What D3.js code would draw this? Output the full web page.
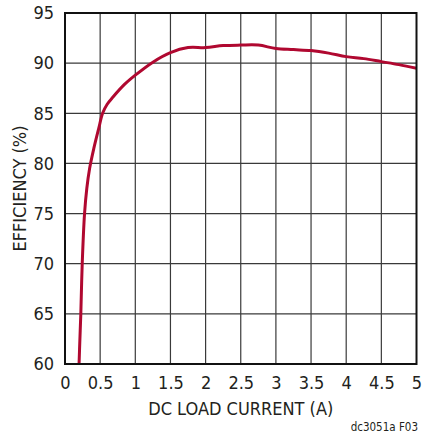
<!DOCTYPE html>
<html>
<head>
<meta charset="utf-8">
<script src="https://cdn.jsdelivr.net/npm/d3@7"></script>
<style>
html,body{margin:0;padding:0;background:#fff;}
svg{display:block;}
text{font-family:"Liberation Sans Narrow","Arial Narrow","DejaVu Sans Condensed",sans-serif;fill:#231f20;}
</style>
</head>
<body>
<script>
const loadCurrent = [0.2, 0.212, 0.225, 0.245, 0.278, 0.31, 0.35, 0.41, 0.48, 0.535, 0.6, 0.68, 0.85, 1.0, 1.25, 1.5, 1.75, 2.0, 2.25, 2.5, 2.75, 3.0, 3.25, 3.5, 3.75, 4.0, 4.25, 4.5, 4.75, 5.0];
const efficiency = [60, 62.5, 65, 70, 75, 77.5, 79.5, 81.5, 83.5, 85, 85.9, 86.6, 87.9, 88.8, 90.1, 91.05, 91.55, 91.55, 91.75, 91.8, 91.8, 91.45, 91.35, 91.25, 91.0, 90.65, 90.45, 90.15, 89.85, 89.5];
const xTicks = [0, 0.5, 1, 1.5, 2, 2.5, 3, 3.5, 4, 4.5, 5];
const yTicks = [60, 65, 70, 75, 80, 85, 90, 95];
const xTitle = "DC LOAD CURRENT (A)";
const yTitle = "EFFICIENCY (%)";
const footer = "dc3051a F03";

const W = 422, H = 437;
const m = {left: 65, top: 13, right: 416.5, bottom: 364};
const svg = d3.select("body").append("svg").attr("width", W).attr("height", H);

const x = d3.scaleLinear().domain([0, 5]).range([m.left, m.right]);
const y = d3.scaleLinear().domain([60, 95]).range([m.bottom, m.top]);

// grid
const g = svg.append("g");
g.selectAll("line.v").data(xTicks.slice(1, -1)).enter().append("line")
  .attr("x1", d => x(d)).attr("x2", d => x(d)).attr("y1", m.top).attr("y2", m.bottom)
  .attr("stroke", "#3a3a3a").attr("stroke-width", 1.2);
g.selectAll("line.h").data(yTicks.slice(1, -1)).enter().append("line")
  .attr("y1", d => y(d)).attr("y2", d => y(d)).attr("x1", m.left).attr("x2", m.right)
  .attr("stroke", "#3a3a3a").attr("stroke-width", 1.2);

// curve
const pts = efficiency.map((v, i) => [loadCurrent[i], v]);
svg.append("path")
  .attr("d", d3.line().x(d => x(d[0])).y(d => y(d[1])).curve(d3.curveCatmullRom.alpha(0.5))(pts))
  .attr("fill", "none").attr("stroke", "#b00830").attr("stroke-width", 3)
  .attr("stroke-linejoin", "round").attr("stroke-linecap", "butt");

// frame
svg.append("rect").attr("x", m.left).attr("y", m.top)
  .attr("width", m.right - m.left).attr("height", m.bottom - m.top)
  .attr("fill", "none").attr("stroke", "#111").attr("stroke-width", 2);

// axes labels using d3 axes (no lines)
const xAxis = svg.append("g").attr("transform", `translate(0,${m.bottom})`)
  .call(d3.axisBottom(x).tickValues(xTicks).tickSize(0).tickPadding(12).tickFormat(d3.format("")));
const yAxis = svg.append("g").attr("transform", `translate(${m.left},0)`)
  .call(d3.axisLeft(y).tickValues(yTicks).tickSize(0).tickPadding(11).tickFormat(d3.format("")));
[xAxis, yAxis].forEach(a => {
  a.select(".domain").remove();
  a.selectAll("text").attr("font-size", 18).style("font-family", '"Liberation Sans Narrow","Arial Narrow","DejaVu Sans Condensed",sans-serif').attr("fill", "#231f20");
});

svg.append("text").attr("x", (m.left + m.right) / 2).attr("y", 415)
  .attr("text-anchor", "middle").attr("font-size", 18).text(xTitle);
svg.append("text").attr("transform", `translate(26,${(m.top + m.bottom) / 2}) rotate(-90)`)
  .attr("text-anchor", "middle").attr("font-size", 18).text(yTitle);
svg.append("text").attr("x", 418).attr("y", 431)
  .attr("text-anchor", "end").attr("font-size", 11.5).text(footer);
</script>
</body>
</html>
